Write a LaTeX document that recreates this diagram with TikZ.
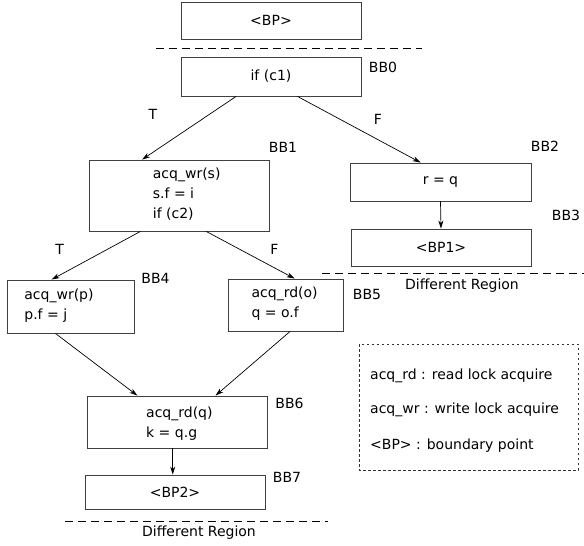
\documentclass[tikz,border=0pt]{standalone}
\usepackage{fontspec}
\setmainfont{DejaVu Sans}
\usetikzlibrary{arrows.meta}
\begin{document}
\begin{tikzpicture}[x=1pt,y=-1pt,
  every node/.style={font=\fontsize{14}{20}\selectfont},
  box/.style={draw=black!75, line width=0.9pt, rectangle, inner sep=0pt},
  txt/.style={inner sep=0pt, align=left, anchor=west},
  lbl/.style={inner sep=0pt},
  arr/.style={draw=black, line width=0.7pt, -{Stealth[length=8pt,width=5pt,inset=2.5pt]}},
  sep/.style={draw=black, line width=1pt, dash pattern=on 8pt off 5pt},
  leg/.style={draw=black!80, line width=0.7pt, dash pattern=on 2.5pt off 2.5pt}]
\useasboundingbox (0,0) rectangle (584,546);
% boxes
\node[box, minimum width=180pt, minimum height=37pt] (bp) at (271,20.5) {<BP>};
\node[box, minimum width=180pt, minimum height=39pt] (bb0) at (271,76.5) {if (c1)};
\node[box, minimum width=180pt, minimum height=71pt] (bb1) at (179,195.5) {};
\node[box, minimum width=181pt, minimum height=38pt] (bb2) at (440.5,182) {r = q};
\node[box, minimum width=180pt, minimum height=37pt] (bb3) at (441,247.5) {<BP1>};
\node[box, minimum width=127pt, minimum height=53pt] (bb4) at (70.5,306.5) {};
\node[box, minimum width=115pt, minimum height=52pt] (bb5) at (285.5,305) {};
\node[box, minimum width=180pt, minimum height=52pt] (bb6) at (177,422) {};
\node[box, minimum width=180pt, minimum height=34pt] (bb7) at (175,492) {<BP2>};
% box texts
\node[txt] (t1) at (152.7,194) {acq\_wr(s)\\s.f = i\\if (c2)};
\node[txt] (t4) at (24.2,305.5) {acq\_wr(p)\\p.f = j};
\node[txt] (t5) at (251.4,304) {acq\_rd(o)\\q = o.f};
\node[txt] (t6) at (146,424) {acq\_rd(q)\\k = q.g};
% block labels
\node[lbl] (l0) at (383,67) {BB0};
\node[lbl] (l1) at (283,147) {BB1};
\node[lbl] (l2) at (545,146) {BB2};
\node[lbl] (l3) at (566,215) {BB3};
\node[lbl] (l4) at (155.5,278.5) {BB4};
\node[lbl] (l5) at (367,294) {BB5};
\node[lbl] (l6) at (289.5,403) {BB6};
\node[lbl] (l7) at (287,477) {BB7};
% edge labels
\node[lbl] (et1) at (153,114) {T};
\node[lbl] (ef1) at (378,119) {F};
\node[lbl] (et2) at (59.6,249) {T};
\node[lbl] (ef2) at (274.5,249) {F};
% arrows
\draw[arr] ([xshift=55.5pt]bb0.south west) -- ([xshift=53.6pt]bb1.north west);
\draw[arr] ([xshift=117pt]bb0.south west) -- ([xshift=71pt]bb2.north west);
\draw[arr] (bb2.south) -- (bb3.north);
\draw[arr] ([xshift=51.8pt]bb1.south west) -- ([xshift=45.1pt]bb4.north west);
\draw[arr] ([xshift=117.7pt]bb1.south west) -- ([xshift=67pt]bb5.north west);
\draw[arr] ([xshift=48.9pt]bb4.south west) -- ([xshift=50.8pt]bb6.north west);
\draw[arr] ([xshift=62.5pt]bb5.south west) -- ([xshift=129pt]bb6.north west);
\draw[arr] ([xshift=86.2pt]bb6.south west) -- ([xshift=88.2pt]bb7.north west);
% region separators
\coordinate (s1a) at (156,48); \coordinate (s1b) at (422,48);
\coordinate (s2a) at (322,273); \coordinate (s2b) at (584,273);
\coordinate (s3a) at (65,521); \coordinate (s3b) at (328,521);
\draw[sep] (s1a) -- (s1b);
\draw[sep] (s2a) -- (s2b);
\draw[sep] (s3a) -- (s3b);
\node[lbl] (dr1) at (462,286) {Different Region};
\node[lbl] (dr2) at (199,533) {Different Region};
% legend
\coordinate (lga) at (359,344); \coordinate (lgb) at (578,470);
\draw[leg] (lga) rectangle (lgb);
\node[txt] (g1) at (370,376) {acq\_rd : read lock acquire};
\node[txt] (g2) at (370,410) {acq\_wr : write lock acquire};
\node[txt] (g3) at (370,446) {<BP> : boundary point};
\end{tikzpicture}
\end{document}
